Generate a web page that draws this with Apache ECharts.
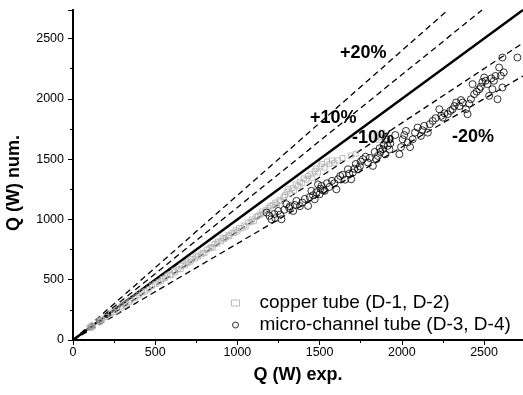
<!DOCTYPE html>
<html>
<head>
<meta charset="utf-8">
<script src="https://cdn.jsdelivr.net/npm/echarts@6/dist/echarts.min.js"></script>
<style>html,body{margin:0;padding:0;background:#fff}#c{width:523px;height:395px}</style>
</head>
<body>
<div id="c"></div>
<script>
var axisMax = 2737;
var xTicks = [0, 500, 1000, 1500, 2000, 2500];
var yTicks = [0, 500, 1000, 1500, 2000, 2500];
var ratios = [1.2, 1.1, 0.9, 0.8];
var ratioLabels = ['+20%', '+10%', '-10%', '-20%'];
var copperTube = [
  [100,104],[106,100],[110,112],[115,118],[120,110],[160,158],[165,150],[170,166],[178,170],[200,190],
  [230,220],[250,232],[265,245],[290,268],[300,285],[320,300],[340,312],[350,330],[380,352],[400,372],
  [420,395],[440,405],[460,420],[480,450],[500,465],[520,480],[535,490],[545,505],[560,515],[575,535],
  [590,545],[600,540],[615,575],[620,560],[640,585],[655,590],[660,615],[680,620],[690,635],[700,645],
  [715,650],[720,670],[740,675],[750,700],[760,690],[780,710],[790,725],[800,720],[815,750],[830,760],
  [840,770],[850,765],[860,795],[875,800],[880,815],[900,820],[910,845],[920,835],[930,850],[945,870],
  [950,860],[965,885],[980,890],[990,910],[1000,900],[1010,930],[1025,925],[1040,950],[1050,940],[1065,975],
  [1080,980],[1090,1000],[1100,985],[1115,1020],[1125,1030],[1140,1040],[1150,1065],[1160,1050],[1175,1080],[1190,1095],
  [1200,1110],[1215,1120],[1230,1140],[1240,1125],[1255,1160],[1265,1150],[1280,1185],[1290,1200],[1300,1230],[1310,1250],
  [1320,1215],[1335,1260],[1345,1240],[1355,1290],[1370,1280],[1380,1310],[1395,1300],[1405,1340],[1420,1330],[1430,1360],
  [1445,1375],[1455,1345],[1470,1400],[1480,1420],[1490,1390],[1505,1440],[1515,1460],[1530,1430],[1545,1480],[1560,1460],
  [1575,1490],[1590,1470],[1610,1490],[1640,1510],[1690,1530],[1720,1545],[1840,1690],[1855,1705],[1870,1680],[1880,1720],
  [1895,1650],[1890,1610],[1860,1660]
];
var microChannel = [
  [1177,1057],[1195,1030],[1207,1001],[1230,1010],[1268,1001],[1248,1070],[1225,1045],[1260,1040],[1285,1080],[1298,1126],
  [1315,1095],[1339,1070],[1350,1120],[1359,1154],[1320,1110],[1380,1110],[1395,1140],[1410,1170],[1430,1112],[1440,1185],
  [1450,1237],[1460,1200],[1470,1167],[1480,1225],[1490,1290],[1500,1209],[1505,1255],[1511,1278],[1520,1240],[1531,1237],
  [1545,1300],[1560,1270],[1575,1320],[1590,1300],[1602,1250],[1612,1333],[1625,1360],[1640,1370],[1655,1330],[1672,1416],
  [1680,1380],[1692,1333],[1702,1389],[1712,1420],[1720,1460],[1733,1416],[1745,1440],[1750,1480],[1763,1500],[1780,1520],
  [1794,1472],[1805,1510],[1824,1444],[1835,1560],[1845,1500],[1854,1527],[1865,1590],[1870,1560],[1884,1582],[1890,1620],
  [1900,1540],[1905,1665],[1914,1610],[1925,1580],[1930,1630],[1960,1700],[1985,1541],[1995,1600],[2005,1665],[2015,1700],
  [2025,1734],[2035,1638],[2050,1600],[2066,1665],[2080,1720],[2096,1762],[2116,1693],[2125,1740],[2136,1776],[2158,1720],
  [2170,1790],[2188,1817],[2205,1840],[2228,1914],[2240,1860],[2249,1845],[2260,1880],[2279,1873],[2295,1900],[2309,1914],
  [2320,1940],[2330,1970],[2350,1940],[2360,1990],[2370,1970],[2390,1914],[2400,1873],[2410,1960],[2420,1997],[2430,2122],
  [2440,2039],[2455,2060],[2471,2080],[2480,2100],[2490,2140],[2501,2177],[2510,2150],[2521,2122],[2531,2025],[2545,2170],
  [2551,2080],[2560,2150],[2570,2190],[2582,1997],[2592,2260],[2602,2191],[2612,2094],[2620,2220],[2612,2343],[2703,2343]
];

var lineSeries = [{
  type: 'line', data: [[0, 0], [axisMax, axisMax]], symbol: 'none', silent: true,
  lineStyle: { color: '#000', width: 2.5 }, z: 3
}];
ratios.forEach(function (r, i) {
  var end = r > 1 ? [axisMax / r, axisMax] : [axisMax, axisMax * r];
  lineSeries.push({
    type: 'line', data: [[0, 0], end], symbol: 'none', silent: true,
    lineStyle: { color: '#000', width: 1.3, type: [6, 4] }, z: 3
  });
});

var labelPos = [[340, 54], [310, 119], [352, 139], [452, 138]];
var graphics = ratioLabels.map(function (t, i) {
  return { type: 'text', left: labelPos[i][0], top: labelPos[i][1] - 10, z: 10,
    style: { text: t, font: 'bold 18px "Liberation Sans", Arial', fill: '#000' } };
});

var chart = echarts.init(document.getElementById('c'));
chart.setOption({
  animation: false,
  backgroundColor: '#fff',
  grid: { left: 73, right: 0, top: 10, bottom: 55, containLabel: false, outerBoundsMode: 'none' },
  legend: {
    orient: 'vertical', left: 224, top: 287, itemGap: 0, itemWidth: 8, itemHeight: 6,
    textStyle: { fontFamily: '"Liberation Sans", Arial', fontSize: 19, color: '#000', lineHeight: 22, padding: [0, 0, 0, 15] },
    data: [
      { name: 'copper tube (D-1, D-2)', icon: 'rect', itemStyle: { color: 'none', borderColor: '#aaa', borderWidth: 1 } },
      { name: 'micro-channel tube (D-3, D-4)', icon: 'circle', itemStyle: { color: 'none', borderColor: '#000', borderWidth: 1 } }
    ]
  },
  graphic: graphics,
  xAxis: [{
    type: 'value', min: 0, max: axisMax, interval: 500,
    name: 'Q (W) exp.', nameLocation: 'middle', nameGap: 26,
    nameTextStyle: { fontFamily: '"Liberation Sans", Arial', fontWeight: 'bold', fontSize: 18, color: '#000' },
    axisLine: { lineStyle: { color: '#000', width: 2 } },
    axisTick: { show: true, length: 5, lineStyle: { color: '#000' } },
    minorTick: { show: true, splitNumber: 2, length: 3, lineStyle: { color: '#000' } },
    splitLine: { show: false },
    axisLabel: { color: '#000', fontSize: 12.5, fontFamily: '"Liberation Sans", Arial', margin: 6,
      formatter: function (v) { return xTicks.indexOf(v) >= 0 ? String(v) : ''; }, showMaxLabel: false }
  }, {
    type: 'value', position: 'top', min: 0, max: axisMax, interval: 500,
    axisLine: { show: true, lineStyle: { color: '#000', width: 2 } },
    axisTick: { show: true, inside: true, length: 5, lineStyle: { color: '#000' } },
    minorTick: { show: true, splitNumber: 2, length: 3, lineStyle: { color: '#000' } },
    axisLabel: { show: false }, splitLine: { show: false }
  }],
  yAxis: [{
    type: 'value', min: 0, max: axisMax, interval: 500,
    name: 'Q (W) num.', nameLocation: 'middle', nameGap: 50, nameRotate: 90,
    nameTextStyle: { fontFamily: '"Liberation Sans", Arial', fontWeight: 'bold', fontSize: 18, color: '#000', padding: [0, 16, 0, 0] },
    axisLine: { show: true, lineStyle: { color: '#000', width: 2 } },
    axisTick: { show: true, length: 5, lineStyle: { color: '#000' } },
    minorTick: { show: true, splitNumber: 2, length: 3, lineStyle: { color: '#000' } },
    splitLine: { show: false },
    axisLabel: { color: '#000', fontSize: 12.5, fontFamily: '"Liberation Sans", Arial', margin: 9,
      formatter: function (v) { return yTicks.indexOf(v) >= 0 ? String(v) : ''; }, showMaxLabel: false }
  }, {
    type: 'value', position: 'right', min: 0, max: axisMax, interval: 500,
    axisLine: { show: true, lineStyle: { color: '#000', width: 2 } },
    axisTick: { show: true, inside: true, length: 5, lineStyle: { color: '#000' } },
    minorTick: { show: true, splitNumber: 2, length: 3, lineStyle: { color: '#000' } },
    axisLabel: { show: false }, splitLine: { show: false }
  }],
  series: lineSeries.concat([
    {
      name: 'copper tube (D-1, D-2)', type: 'scatter', data: copperTube, symbol: 'rect', symbolSize: 5,
      itemStyle: { color: 'none', borderColor: '#b0b0b0', borderWidth: 1 }, z: 4
    },
    {
      name: 'micro-channel tube (D-3, D-4)', type: 'scatter', data: microChannel, symbol: 'circle', symbolSize: 7,
      itemStyle: { color: 'none', borderColor: '#000', borderWidth: 1 }, z: 5
    }
  ])
});
</script>
</body>
</html>
